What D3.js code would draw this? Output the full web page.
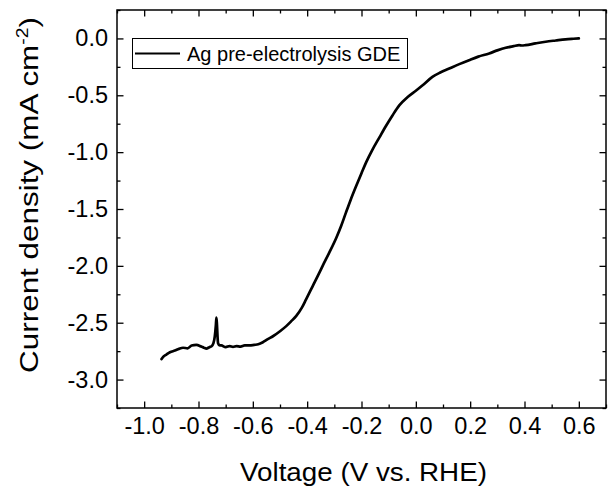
<!DOCTYPE html>
<html>
<head>
<meta charset="utf-8">
<script src="https://cdn.jsdelivr.net/npm/d3@7"></script>
<style>
  html, body { margin: 0; padding: 0; background: #fff; }
  svg { display: block; font-family: "Liberation Sans", Arial, sans-serif; }
</style>
</head>
<body>
<svg id="chart" width="608" height="491"></svg>
<script>
// ---- data ----
const voltage = [-0.936, -0.93, -0.918, -0.905, -0.887, -0.872, -0.857, -0.84, -0.825, -0.808,
  -0.79, -0.78, -0.771, -0.76, -0.752, -0.745, -0.740, -0.736, -0.734, -0.732,
  -0.730, -0.728, -0.722, -0.716, -0.70, -0.685, -0.673, -0.66, -0.645, -0.63,
  -0.612, -0.595, -0.58, -0.563, -0.545, -0.526, -0.50, -0.477, -0.46, -0.44,
  -0.42, -0.404, -0.38, -0.355, -0.343, -0.32, -0.293, -0.275, -0.257, -0.24,
  -0.22, -0.20, -0.183, -0.16, -0.134, -0.11, -0.086, -0.061, -0.03, 0.0,
  0.025, 0.061, 0.09, 0.123, 0.16, 0.196, 0.23, 0.27, 0.30, 0.331,
  0.36, 0.38, 0.39, 0.404, 0.44, 0.478, 0.515, 0.551, 0.58, 0.60];
const current = [-2.82, -2.80, -2.78, -2.76, -2.745, -2.73, -2.72, -2.725, -2.70, -2.695,
  -2.71, -2.72, -2.727, -2.715, -2.707, -2.68, -2.62, -2.52, -2.456, -2.52,
  -2.62, -2.68, -2.70, -2.70, -2.715, -2.705, -2.712, -2.705, -2.71, -2.70,
  -2.70, -2.695, -2.69, -2.672, -2.645, -2.619, -2.575, -2.53, -2.49, -2.44,
  -2.37, -2.295, -2.18, -2.06, -2.0, -1.89, -1.755, -1.65, -1.53, -1.42,
  -1.30, -1.185, -1.09, -0.98, -0.87, -0.77, -0.677, -0.589, -0.515, -0.46,
  -0.412, -0.338, -0.30, -0.265, -0.226, -0.191, -0.16, -0.132, -0.105, -0.082,
  -0.068, -0.059, -0.062, -0.059, -0.044, -0.029, -0.018, -0.008, -0.003, 0.0];
const xTicks = [-1.0, -0.8, -0.6, -0.4, -0.2, 0.0, 0.2, 0.4, 0.6];
const yTicks = [0.0, -0.5, -1.0, -1.5, -2.0, -2.5, -3.0];
const seriesName = "Ag pre-electrolysis GDE";

// ---- layout ----
const svg = d3.select("#chart");
const L = 117, R = 606, T = 10, B = 408;
const x = d3.scaleLinear().domain([-1.1, 0.7]).range([L, R]);
const y = d3.scaleLinear().domain([-3.25, 0.25]).range([B, T]);
const fmt = v => v.toFixed(1);
const xMinor = d3.range(-1.1, 0.71, 0.1).map(v => +v.toFixed(2));
const yMinor = d3.range(-3.25, 0.26, 0.25).map(v => +v.toFixed(2));
const notMajor = (arr, majors) => arr.filter(v => !majors.some(t => Math.abs(t - v) < 1e-6));

function addAxis(axisFn, scale, transform, ticks, size, labels) {
  const a = axisFn(scale).tickValues(ticks).tickSizeInner(size).tickSizeOuter(0).tickPadding(9);
  if (labels) a.tickFormat(fmt); else a.tickFormat("");
  const g = svg.append("g").attr("transform", transform).call(a);
  g.select(".domain").remove();
  g.selectAll("line").attr("stroke", "#000").attr("stroke-width", 1.3);
  g.selectAll("text").attr("font-size", 23.5).attr("fill", "#000")
    .attr("font-family", "'Liberation Sans', Arial, sans-serif");
  return g;
}
addAxis(d3.axisBottom, x, `translate(0,${B})`, xTicks, -6.5, true);
addAxis(d3.axisBottom, x, `translate(0,${B})`, notMajor(xMinor, xTicks), -3.5, false);
addAxis(d3.axisTop, x, `translate(0,${T})`, xTicks, -6.5, false);
addAxis(d3.axisTop, x, `translate(0,${T})`, notMajor(xMinor, xTicks), -3.5, false);
addAxis(d3.axisLeft, y, `translate(${L},0)`, yTicks, -6.5, true);
addAxis(d3.axisLeft, y, `translate(${L},0)`, notMajor(yMinor, yTicks), -3.5, false);
addAxis(d3.axisRight, y, `translate(${R},0)`, yTicks, -6.5, false);
addAxis(d3.axisRight, y, `translate(${R},0)`, notMajor(yMinor, yTicks), -3.5, false);

// frame
svg.append("rect").attr("x", L).attr("y", T).attr("width", R - L).attr("height", B - T)
  .attr("fill", "none").attr("stroke", "#000").attr("stroke-width", 1.5);

// data line
const pts = voltage.map((v, i) => [v, current[i]]);
svg.append("path").datum(pts)
  .attr("fill", "none").attr("stroke", "#000").attr("stroke-width", 2.7)
  .attr("stroke-linejoin", "round").attr("stroke-linecap", "round")
  .attr("d", d3.line().curve(d3.curveMonotoneX).x(d => x(d[0])).y(d => y(d[1])));

// legend
const lg = svg.append("g");
lg.append("rect").attr("x", 132.5).attr("y", 38.5).attr("width", 275).attr("height", 30)
  .attr("fill", "#fff").attr("stroke", "#000").attr("stroke-width", 1);
lg.append("line").attr("x1", 135).attr("x2", 180).attr("y1", 53.5).attr("y2", 53.5)
  .attr("stroke", "#000").attr("stroke-width", 2);
lg.append("text").attr("x", 187).attr("y", 61).attr("font-size", 20).attr("fill", "#000")
  .text(seriesName);

// axis titles (stretched along their length to match the reference extents)
const xtG = svg.append("g");
const xt = xtG.append("text").attr("x", 0).attr("y", 0).attr("text-anchor", "middle")
  .attr("font-size", 26).attr("fill", "#000").text("Voltage (V vs. RHE)");
const xw = xt.node().getBBox().width;
xtG.attr("transform", `translate(363.5,481) scale(${247 / xw},1)`);

const ytG = svg.append("g");
const yt = ytG.append("text").attr("x", 0).attr("y", 0)
  .attr("text-anchor", "middle").attr("font-size", 26).attr("fill", "#000");
yt.append("tspan").text("Current density (mA cm");
yt.append("tspan").attr("dy", -10).attr("font-size", 16).text("-2");
yt.append("tspan").attr("dy", 10).text(")");
const yw = yt.node().getBBox().width;
ytG.attr("transform", `translate(38,195) rotate(-90) scale(${356 / yw},1)`);
</script>
</body>
</html>
